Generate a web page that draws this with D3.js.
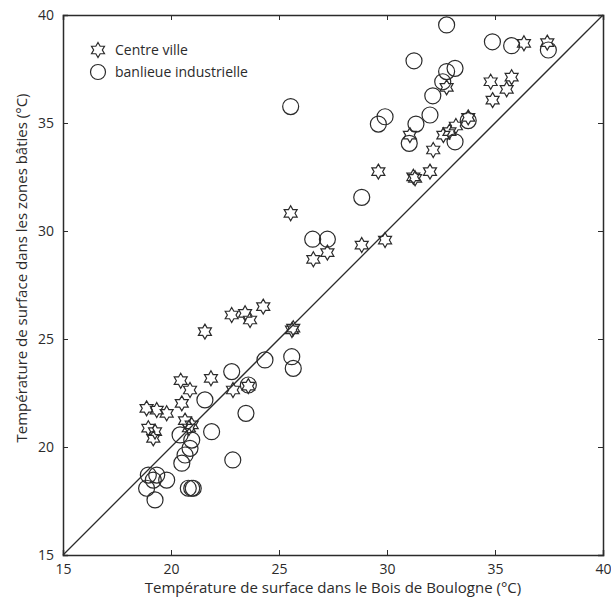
<!DOCTYPE html>
<html lang="fr">
<head>
<meta charset="UTF-8">
<title>Température de surface</title>
<script src="https://d3js.org/d3.v7.min.js"></script>
<style>
    body, html {
        margin: 0;
        padding: 0;
        background: #ffffff;
    }
    svg text {
        font-family: "Open Sans", "Lato", sans-serif;
        fill: #2b2b2b;
    }
</style>
</head>
<body>
<div id="chart"></div>
<script>
// Centre ville (stars): [Bois de Boulogne, zones bâties]
const centreVille = [
    [36.34, 38.69], [37.42, 38.72], [34.8, 36.91], [35.77, 37.12], [35.54, 36.56],
    [34.89, 36.06], [32.76, 36.65], [31.06, 34.44], [33.19, 34.86], [33.76, 35.26],
    [32.61, 34.44], [32.89, 34.6], [32.14, 33.75], [29.6, 32.75], [31.22, 32.51],
    [31.3, 32.44], [31.99, 32.75], [28.83, 29.35], [29.91, 29.58], [26.59, 28.69],
    [27.24, 29.0], [25.54, 30.82], [21.57, 25.34], [22.81, 26.11], [23.43, 26.19],
    [23.66, 25.88], [24.27, 26.5], [25.66, 25.5], [25.6, 25.42], [20.45, 23.07],
    [20.88, 22.64], [21.85, 23.18], [22.87, 22.64], [23.58, 22.82], [18.87, 21.79],
    [19.34, 21.71], [19.8, 21.56], [20.5, 22.02], [18.95, 20.87], [19.26, 20.71],
    [19.18, 20.4], [20.65, 21.22], [20.96, 21.02], [20.83, 20.88]
];

// Banlieue industrielle (circles)
const banlieue = [
    [32.76, 39.54], [34.88, 38.76], [35.77, 38.58], [37.47, 38.38], [31.25, 37.88],
    [33.15, 37.53], [32.76, 37.38], [32.58, 36.91], [32.12, 36.26], [29.91, 35.29],
    [29.6, 34.95], [31.99, 35.37], [31.34, 34.95], [31.03, 34.06], [33.15, 34.13],
    [33.76, 35.11], [28.83, 31.56], [26.56, 29.62], [27.24, 29.62], [25.54, 35.76],
    [25.59, 24.18], [25.66, 23.64], [24.35, 24.03], [22.81, 23.49], [23.58, 22.87],
    [21.57, 22.18], [23.47, 21.56], [21.88, 20.71], [20.42, 20.56], [20.96, 20.32],
    [20.88, 19.94], [20.65, 19.63], [20.5, 19.25], [22.86, 19.4], [18.95, 18.7],
    [19.34, 18.7], [19.18, 18.47], [19.8, 18.47], [18.87, 18.09], [19.26, 17.55],
    [20.8, 18.09], [20.96, 18.09], [21.03, 18.09]
];

const ticks = [15, 20, 25, 30, 35, 40];
const legendLabels = ["Centre ville", "banlieue industrielle"];
const xTitle = "Température de surface dans le Bois de Boulogne (°C)";
const yTitle = "Température de surface dans les zones bâties  (°C)";

const width = 611, height = 601;
const margin = {top: 15, right: 8, bottom: 46, left: 63};
const ink = "#2b2b2b";

const svg = d3.select("#chart").append("svg")
    .attr("width", width)
    .attr("height", height);

const x = d3.scaleLinear().domain([15, 40]).range([margin.left, width - margin.right]);
const y = d3.scaleLinear().domain([15, 40]).range([height - margin.bottom, margin.top]);

// six-pointed star outline
const starR = 7.5;
const starPts = d3.range(12).map(i => [i * Math.PI / 6, i % 2 === 0 ? starR : starR / Math.sqrt(3)]);
const starPath = d3.lineRadial().curve(d3.curveLinearClosed)(starPts);

// axes, MATLAB style box with inward ticks on all sides
const tickLen = 5;
svg.append("g")
    .attr("transform", `translate(0,${y(15)})`)
    .call(d3.axisBottom(x).tickValues(ticks).tickSize(-tickLen).tickPadding(tickLen + 4));
svg.append("g")
    .attr("transform", `translate(${x(15)},0)`)
    .call(d3.axisLeft(y).tickValues(ticks).tickSize(-tickLen).tickPadding(tickLen + 4));
svg.append("g")
    .attr("transform", `translate(0,${y(40)})`)
    .call(d3.axisTop(x).tickValues(ticks).tickSize(-tickLen).tickFormat(""));
svg.append("g")
    .attr("transform", `translate(${x(40)},0)`)
    .call(d3.axisRight(y).tickValues(ticks).tickSize(-tickLen).tickFormat(""));

svg.selectAll(".domain").attr("stroke", ink).attr("stroke-width", 1.5);
svg.selectAll(".tick line").attr("stroke", ink).attr("stroke-width", 1);
svg.selectAll(".tick text").attr("font-size", 14).attr("fill", ink)
    .style("font-family", "'Open Sans', sans-serif");

// 1:1 line
svg.append("line")
    .attr("x1", x(15)).attr("y1", y(15))
    .attr("x2", x(40)).attr("y2", y(40))
    .attr("stroke", ink).attr("stroke-width", 1.3);

// circles
svg.append("g").selectAll("circle")
    .data(banlieue)
    .join("circle")
    .attr("cx", d => x(d[0]))
    .attr("cy", d => y(d[1]))
    .attr("r", 8)
    .attr("fill", "none")
    .attr("stroke", ink)
    .attr("stroke-width", 1.2);

// stars
svg.append("g").selectAll("path")
    .data(centreVille)
    .join("path")
    .attr("d", starPath)
    .attr("transform", d => `translate(${x(d[0])},${y(d[1])})`)
    .attr("fill", "none")
    .attr("stroke", ink)
    .attr("stroke-width", 1.2);

// legend
const legend = svg.append("g").attr("transform", "translate(98,50)");
legend.append("path")
    .attr("d", starPath)
    .attr("fill", "none").attr("stroke", ink).attr("stroke-width", 1.2);
legend.append("circle")
    .attr("cy", 22).attr("r", 7.5)
    .attr("fill", "none").attr("stroke", ink).attr("stroke-width", 1.2);
legend.selectAll("text")
    .data(legendLabels)
    .join("text")
    .attr("x", 17)
    .attr("y", (d, i) => i * 22)
    .attr("dy", "0.35em")
    .attr("font-size", 14)
    .text(d => d);

// axis titles
svg.append("text")
    .attr("x", (x(15) + x(40)) / 2)
    .attr("y", 593)
    .attr("text-anchor", "middle")
    .attr("font-size", 15)
    .text(xTitle);

svg.append("text")
    .attr("transform", "translate(27,268) rotate(-90)")
    .attr("text-anchor", "middle")
    .attr("font-size", 15)
    .text(yTitle);
</script>
</body>
</html>
